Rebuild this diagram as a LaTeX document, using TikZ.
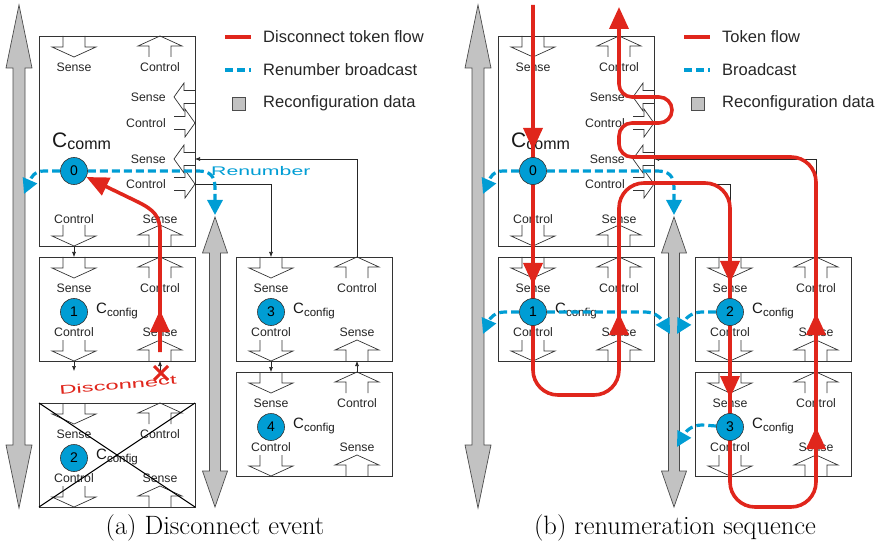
\documentclass[tikz,border=0pt]{standalone}
\usepackage{fontspec}
\newfontfamily\diagfont{Liberation Sans}
\usetikzlibrary{arrows.meta,calc}

\definecolor{tokred}{RGB}{224,38,28}
\definecolor{bcblue}{RGB}{0,157,212}
\definecolor{datagray}{RGB}{194,194,194}

\pgfdeclarelayer{front}
\pgfsetlayers{main,front}

\tikzset{
  vport/.pic={\draw[port] (-11,0) -- (-11,11) -- (-22,11) -- (0,21) -- (22,11) -- (11,11) -- (11,0);},
  hport/.pic={\draw[port] (-6.5,0) -- (-6.5,11) -- (-14,11) -- (0,21) -- (14,11) -- (6.5,11) -- (6.5,0);}
}

\newcommand\cfgsub[1]{\raisebox{-3.5pt}{\fontsize{11.5}{12}\selectfont #1}}

\newcommand\datalink[6]{%
  \draw[data] (#1,#2) -- (#1+#5,#2+#4) -- (#1+#6,#2+#4) -- (#1+#6,#3-#4)
    -- (#1+#5,#3-#4) -- (#1,#3) -- (#1-#5,#3-#4) -- (#1-#6,#3-#4)
    -- (#1-#6,#2+#4) -- (#1-#5,#2+#4) -- cycle;}

\newcommand\cfgbox[4]{%
  \node[box, minimum height=104pt] (#1) at (#2,#3+52) {};
  \pic at (#2-43,#3) {vport};
  \pic[rotate=180] at (#2+43,#3+21) {vport};
  \pic at (#2-43,#3+83) {vport};
  \pic[rotate=180] at (#2+43,#3+104) {vport};
  \node[lbl] (#1s1) at (#2-43,#3+31) {Sense};
  \node[lbl] (#1c1) at (#2+43,#3+31) {Control};
  \node[lbl] (#1c2) at (#2-43,#3+75) {Control};
  \node[lbl] (#1s2) at (#2+43,#3+75) {Sense};
  \node[cname] (#1name) at (#2-21,#3+56) {{\fontsize{15}{15}\selectfont C}\cfgsub{config}};
  \begin{pgfonlayer}{front}
    \node[idx] (#1n) at (#2-43,#3+55) {#4};
  \end{pgfonlayer}}

\begin{document}
\begin{tikzpicture}[x=1pt, y=-1pt,
  box/.style={draw=black!80, line width=0.8pt, minimum width=156pt, inner sep=0pt, outer sep=0pt},
  port/.style={draw=black!80, line width=0.7pt},
  lbl/.style={font=\diagfont\fontsize{12.3}{13}\selectfont, text=black!85, inner sep=0pt},
  cname/.style={font=\diagfont, text=black!90, anchor=base west, inner sep=0pt},
  idx/.style={circle, draw=black!80, line width=0.6pt, fill=bcblue, minimum size=27pt, inner sep=0pt,
    font=\diagfont\fontsize{14}{14}\selectfont},
  wire/.style={draw=black!85, line width=0.6pt, -{Latex[length=5pt,width=4pt]}},
  data/.style={draw=black!70, line width=0.7pt, fill=datagray},
  bcast/.style={draw=bcblue, line width=3.2pt, dash pattern=on 8pt off 4pt, -{Triangle[length=15pt,width=15pt]}},
  token/.style={draw=tokred, line width=3.6pt},
  tokhead/.style={token, -{Triangle[length=22pt,width=19pt]}},
  legend/.style={font=\diagfont\fontsize{16.5}{18}\selectfont, text=black!85, anchor=west, inner sep=0pt}]

\useasboundingbox (0,0) rectangle (881,548);

\foreach \s/\p/\nu/\nl/\tf/\bc in {0/a/3/4/Disconnect token flow/Renumber broadcast, 459/b/2/3/Token flow/Broadcast}
{
  \datalink{19+\s}{5}{508}{63}{13}{6}
  \datalink{215+\s}{217}{507}{36}{12.5}{5.5}

  % communication cell
  \node[box, minimum height=210pt] (top\p) at (117+\s,141) {};
  \pic at (74+\s,36) {vport};
  \pic[rotate=180] at (160+\s,57) {vport};
  \pic at (74+\s,225) {vport};
  \pic[rotate=180] at (160+\s,246) {vport};
  \pic[rotate=-90] at (195+\s,97) {hport};
  \pic[rotate=90] at (174+\s,123) {hport};
  \pic[rotate=-90] at (195+\s,159) {hport};
  \pic[rotate=90] at (174+\s,184) {hport};
  \node[lbl] (ts\p) at (74+\s,67) {Sense};
  \node[lbl] (tc\p) at (160+\s,67) {Control};
  \node[lbl, anchor=east] (rs1\p) at (166+\s,97) {Sense};
  \node[lbl, anchor=east] (rc1\p) at (166+\s,123) {Control};
  \node[lbl, anchor=east] (rs2\p) at (166+\s,159) {Sense};
  \node[lbl, anchor=east] (rc2\p) at (166+\s,184) {Control};
  \node[lbl] (bc\p) at (74+\s,219) {Control};
  \node[lbl] (bs\p) at (160+\s,219) {Sense};
  \node[cname] (cc\p) at (52+\s,148) {{\fontsize{21}{21}\selectfont C}\raisebox{-2pt}{\fontsize{16}{16}\selectfont comm}};
  \begin{pgfonlayer}{front}
    \node[idx] (n0\p) at (74+\s,171) {0};
  \end{pgfonlayer}

  \cfgbox{cfg1\p}{117+\s}{257}{1}
  \cfgbox{cfgR\p}{314+\s}{257}{\nu}
  \cfgbox{cfgS\p}{314+\s}{372}{\nl}

  \coordinate (rs\p) at (195+\s,159);
  \coordinate (rc\p) at (195+\s,184);
  \draw[wire] ([xshift=43pt]cfgR\p.north) |- (rs\p);
  \draw[wire] (rc\p) -| ([xshift=-43pt]cfgR\p.north);
  \draw[wire] ([xshift=-43pt]top\p.south) -- ([xshift=-43pt]cfg1\p.north);
  \draw[wire] ([xshift=-43pt]cfgR\p.south) -- ([xshift=-43pt]cfgS\p.north);
  \draw[wire] ([xshift=43pt]cfgS\p.north) -- ([xshift=43pt]cfgR\p.south);

  \draw[bcast] (n0\p) -- (44+\s,171) .. controls (34+\s,171) and (31+\s,178) .. (24+\s,194);
  \draw[bcast] (n0\p) -- (198+\s,171) .. controls (210+\s,171) and (215+\s,176) .. (215+\s,188) -- (215+\s,215);

  % legend
  \draw[token] (225+\s,37) -- (251+\s,37);
  \draw[bcast, -] (225+\s,70) -- (251+\s,70);
  \draw[data] (232+\s,97) rectangle (245+\s,110);
  \node[legend] (lt\p) at (263+\s,37) {\tf};
  \node[legend] (lb\p) at (263+\s,70) {\bc};
  \node[legend] (ld\p) at (263+\s,103) {Reconfiguration data};
}

% (a) disconnect event
\cfgbox{cfgXa}{117}{403}{2}
\draw[black, line width=1.1pt] (cfgXa.north west) -- (cfgXa.south east) (cfgXa.south west) -- (cfgXa.north east);
\coordinate (cutd) at (74,371);
\coordinate (cutu) at (160,373);
\draw[wire] ([xshift=-43pt]cfg1a.south) -- (cutd);
\draw[wire] (cutu) -- ([xshift=43pt]cfg1a.south);
\draw[token, line width=3pt] (154,366) -- (168,380) (154,380) -- (168,366);
\node[font=\diagfont\fontsize{12.5}{13}\selectfont, text=tokred, rotate=5, inner sep=0pt] (disc) at (118,385) {\scalebox{1.9}[1]{Disconnect}};
\node[font=\diagfont\fontsize{12.5}{13}\selectfont, text=bcblue, anchor=west, inner sep=0pt] (renum) at (211,171) {\scalebox{1.7}[1]{Renumber}};
\draw[tokhead] (160,352) -- (160,232) .. controls (160,216) and (154,210) .. (138,202) -- (n0a);
\draw[tokhead] (160,336) -- (160,310);

% (b) renumeration sequence
\draw[bcast] (cfg1bn) -- (505,312) .. controls (495,312) and (490,318) .. (483,334);
\draw[bcast] (cfg1bn) -- (645,312) .. controls (655,312) and (661,318) .. (670,334);
\draw[bcast] (cfgRbn) -- (702,312) .. controls (692,312) and (686,318) .. (677,334);
\draw[bcast] (cfgSbn) -- (702,425) .. controls (692,425) and (686,431) .. (677,447);

\draw[token, rounded corners=25pt] (533,5) -- (533,395) -- (619,395) -- (619,183) -- (730,183)
  -- (730,507) -- (816,507) -- (816,157) -- (640,157);
\draw[tokhead, rounded corners=13pt] (640,157) -- (619,157) -- (619,123) -- (672,123) -- (672,97)
  -- (619,97) -- (619,7);
\draw[tokhead] (533,128) -- (533,150);
\draw[tokhead] (533,262) -- (533,285);
\draw[tokhead] (619,336) -- (619,313);
\draw[tokhead] (730,260) -- (730,283);
\draw[tokhead] (730,375) -- (730,398);
\draw[tokhead] (816,450) -- (816,427);
\draw[tokhead] (816,336) -- (816,313);

\node[font=\fontsize{26.5}{30}\selectfont] (capa) at (215,528) {(a) Disconnect event};
\node[font=\fontsize{26.5}{30}\selectfont] (capb) at (675,528) {(b) renumeration sequence};

\end{tikzpicture}
\end{document}
